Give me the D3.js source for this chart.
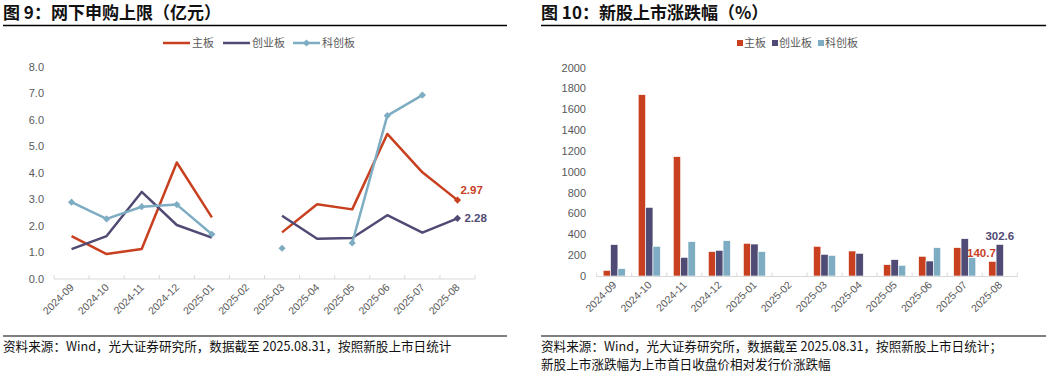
<!DOCTYPE html>
<html>
<head>
<meta charset="utf-8">
<script src="https://cdn.jsdelivr.net/npm/d3@7"></script>
<style>
  html, body { margin: 0; padding: 0; background: #fff; }
  svg { display: block; font-family: "Liberation Sans", Arial, "Noto Sans CJK SC", sans-serif; }
  .cjk { font-family: "Noto Sans CJK SC", sans-serif; }
</style>
</head>
<body>
<svg id="chart" width="1050" height="375"></svg>
<script>
// ---- data ----
const months = ['2024-09','2024-10','2024-11','2024-12','2025-01','2025-02',
                '2025-03','2025-04','2025-05','2025-06','2025-07','2025-08'];
const seriesNames = ['主板', '创业板', '科创板'];

// 网下申购上限（亿元）
const capMain    = [1.61, 0.93, 1.12, 4.39, 2.32, null, 1.75, 2.81, 2.62, 5.47, 4.02, 2.97];
const capChiNext = [1.12, 1.61, 3.28, 2.03, 1.55, null, 2.38, 1.51, 1.54, 2.40, 1.74, 2.28];
const capStar    = [2.89, 2.26, 2.72, 2.80, 1.68, null, 1.15, null, 1.35, 6.16, 6.94, null];
const capTicks   = [0, 1, 2, 3, 4, 5, 6, 7, 8];

// 新股上市涨跌幅（%）
const retMain    = [54, 1741, 1146, 234, 314, null, 285, 240, 109, 189, 272, 140.7];
const retChiNext = [301, 659, 179, 246, 307, null, 208, 218, 157, 144, 358, 302.6];
const retStar    = [70, 285, 330, 339, 234, null, 198, null, 102, 272, 176, null];
const retTicks   = [0, 200, 400, 600, 800, 1000, 1200, 1400, 1600, 1800, 2000];

const colors = ['#C8401F', '#504B74', '#7EADC3'];
const gray = '#595959';

const svg = d3.select('#chart');

// ---------- frame: title, rules, source ----------
function frame(x0, x1, title, notes) {
  svg.append('text').attr('class', 'cjk').attr('x', x0).attr('y', 19)
    .attr('font-size', 17).attr('font-weight', 'bold').attr('fill', '#111')
    .text(title);
  svg.append('line').attr('x1', x0).attr('x2', x1).attr('y1', 25.5).attr('y2', 25.5)
    .attr('stroke', '#000').attr('stroke-width', 1.5);
  svg.append('line').attr('x1', x0).attr('x2', x1).attr('y1', 336).attr('y2', 336)
    .attr('stroke', '#000').attr('stroke-width', 1.2);
  notes.forEach((t, i) => {
    svg.append('text').attr('class', 'cjk').attr('x', x0).attr('y', 351 + i * 18)
      .attr('font-size', 12.6).attr('fill', '#111').text(t);
  });
}

// category x axis, Excel style (ticks between categories, pointing up)
function catAxis(x, yPos) {
  const g = svg.append('g');
  const [r0, r1] = x.range();
  g.append('line').attr('x1', r0).attr('x2', r1).attr('y1', yPos).attr('y2', yPos)
    .attr('stroke', '#D9D9D9').attr('stroke-width', 1.2);
  g.selectAll('.tk').data(d3.range(months.length + 1)).join('line')
    .attr('x1', i => r0 + i * x.step()).attr('x2', i => r0 + i * x.step())
    .attr('y1', yPos).attr('y2', yPos - 4)
    .attr('stroke', '#D9D9D9').attr('stroke-width', 1);
  g.selectAll('.lb').data(months).join('text')
    .attr('transform', d => `translate(${x(d) + x.bandwidth() / 2 + 3},${yPos + 9}) rotate(-45)`)
    .attr('text-anchor', 'end').attr('font-size', 10.5).attr('fill', gray)
    .text(d => d);
}

function valAxis(y, ticks, xPos, fmt) {
  svg.append('g').selectAll('text').data(ticks).join('text')
    .attr('x', xPos).attr('y', d => y(d)).attr('dy', '0.35em')
    .attr('text-anchor', 'end').attr('font-size', 11).attr('fill', gray)
    .text(fmt);
}

const diamond = d3.symbol().type(d3.symbolSquare).size(26);

// ================= LEFT: 网下申购上限 =================
frame(3, 507, '图 9：网下申购上限（亿元）',
  ['资料来源：Wind，光大证券研究所，数据截至 2025.08.31，按照新股上市日统计']);

const xL = d3.scaleBand().domain(months).range([54, 475]).padding(0);
const yL = d3.scaleLinear().domain([0, 8]).range([278.7, 67]);
catAxis(xL, 279);
valAxis(yL, capTicks, 44, d3.format('.1f'));

const lineGen = d3.line()
  .defined(d => d.v != null)
  .x(d => xL(d.m) + xL.bandwidth() / 2)
  .y(d => yL(d.v));

[capMain, capChiNext, capStar].forEach((vals, si) => {
  const data = months.map((m, i) => ({ m, v: vals[i] }));
  svg.append('path').datum(data)
    .attr('fill', 'none').attr('stroke', colors[si]).attr('stroke-width', 2.5)
    .attr('stroke-linejoin', 'round')
    .attr('d', lineGen);
  // 科创板 carries markers on every point; the other two only on the latest
  const pts = si === 2 ? data.filter(d => d.v != null) : [data[data.length - 1]];
  svg.append('g').selectAll('path').data(pts).join('path')
    .attr('d', diamond)
    .attr('transform', d => `translate(${xL(d.m) + xL.bandwidth() / 2},${yL(d.v)}) rotate(45)`)
    .attr('fill', colors[si]);
});

// end labels
const lastM = months[months.length - 1];
const cxLast = xL(lastM) + xL.bandwidth() / 2;
svg.append('text').attr('x', cxLast + 3).attr('y', yL(capMain[11]) - 6)
  .attr('font-size', 11.5).attr('font-weight', 'bold').attr('fill', colors[0])
  .text(capMain[11].toFixed(2));
svg.append('text').attr('x', cxLast + 7).attr('y', yL(capChiNext[11])).attr('dy', '0.35em')
  .attr('font-size', 11.5).attr('font-weight', 'bold').attr('fill', colors[1])
  .text(capChiNext[11].toFixed(2));

// legend (lines)
const legL = svg.append('g').attr('class', 'cjk');
[[163, '主板'], [223, '创业板'], [293, '科创板']].forEach(([lx, name], i) => {
  legL.append('line').attr('x1', lx).attr('x2', lx + 27).attr('y1', 43).attr('y2', 43)
    .attr('stroke', colors[i]).attr('stroke-width', 2.5);
  if (i === 2) {
    legL.append('path').attr('d', diamond)
      .attr('transform', `translate(${lx + 13.5},43) rotate(45)`).attr('fill', colors[i]);
  }
  legL.append('text').attr('x', lx + 29).attr('y', 43).attr('dy', '0.35em')
    .attr('font-size', 11).attr('fill', gray).text(name);
});

// ================= RIGHT: 新股上市涨跌幅 =================
frame(541, 1046, '图 10：新股上市涨跌幅（%）',
  ['资料来源：Wind，光大证券研究所，数据截至 2025.08.31，按照新股上市日统计；',
   '新股上市涨跌幅为上市首日收盘价相对发行价涨跌幅']);

const xR = d3.scaleBand().domain(months).range([596.7, 1017.3]).padding(0);
const x0R = d3.scaleBand().domain(months).range([596.7, 1017.3])
  .paddingInner(0.37).paddingOuter(0.185);
const x1R = d3.scaleBand().domain(seriesNames).range([0, x0R.bandwidth()]);
const yR = d3.scaleLinear().domain([0, 2000]).range([276, 67.7]);

valAxis(yR, retTicks, 586, d => d);

[retMain, retChiNext, retStar].forEach((vals, si) => {
  const data = months.map((m, i) => ({ m, v: vals[i] })).filter(d => d.v != null);
  svg.append('g').selectAll('rect').data(data).join('rect')
    .attr('x', d => x0R(d.m) + x1R(seriesNames[si]))
    .attr('width', x1R.bandwidth())
    .attr('y', d => yR(d.v))
    .attr('height', d => yR(0) - yR(d.v))
    .attr('fill', colors[si])
    .attr('stroke', '#fff').attr('stroke-width', 0.6);
});
catAxis(xR, 276.5);

// end labels
svg.append('text')
  .attr('x', x0R(lastM) + x1R('主板') + x1R.bandwidth() / 2 - 11)
  .attr('y', yR(retMain[11]) - 4).attr('text-anchor', 'middle')
  .attr('font-size', 11.5).attr('font-weight', 'bold').attr('fill', colors[0])
  .text(retMain[11].toFixed(1));
svg.append('text')
  .attr('x', x0R(lastM) + x1R('创业板') + x1R.bandwidth() / 2)
  .attr('y', yR(retChiNext[11]) - 4).attr('text-anchor', 'middle')
  .attr('font-size', 11.5).attr('font-weight', 'bold').attr('fill', colors[1])
  .text(retChiNext[11].toFixed(1));

// legend (squares)
const legR = svg.append('g').attr('class', 'cjk');
[[737, '主板'], [772, '创业板'], [818, '科创板']].forEach(([lx, name], i) => {
  legR.append('rect').attr('x', lx).attr('y', 40).attr('width', 6).attr('height', 6)
    .attr('fill', colors[i]);
  legR.append('text').attr('x', lx + 7).attr('y', 43).attr('dy', '0.35em')
    .attr('font-size', 11).attr('fill', gray).text(name);
});
</script>
</body>
</html>
